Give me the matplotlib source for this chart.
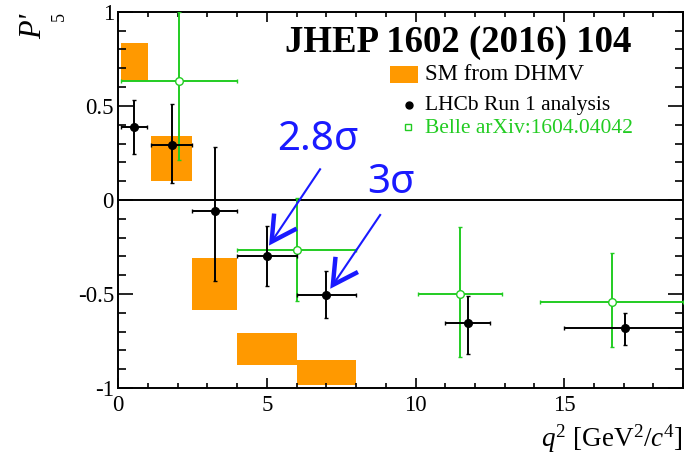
import numpy as np
import matplotlib
matplotlib.use('Agg')
import matplotlib.pyplot as plt

plt.rcParams['font.family'] = ['Liberation Serif', 'DejaVu Serif']
plt.rcParams['mathtext.fontset'] = 'custom'
plt.rcParams['mathtext.rm'] = 'Liberation Serif'
plt.rcParams['mathtext.it'] = 'Liberation Serif:italic'
plt.rcParams['axes.unicode_minus'] = False

# LHCb Run 1 points: q2 centre, bin edges, P5' value and error band ends
lhcb_q2 = [0.54, 1.80, 3.26, 5.02, 7.00, 11.76, 17.04]
lhcb_lo = [0.1, 1.1, 2.5, 4.0, 6.0, 11.0, 15.0]
lhcb_hi = [0.98, 2.5, 4.0, 6.0, 8.0, 12.5, 19.0]
lhcb_p5 = [0.39, 0.29, -0.06, -0.30, -0.505, -0.655, -0.68]
lhcb_up = [0.53, 0.51, 0.28, -0.14, -0.38, -0.51, -0.60]
lhcb_dn = [0.245, 0.09, -0.43, -0.46, -0.63, -0.82, -0.77]

# Belle arXiv:1604.04042
belle_q2 = [2.05, 6.02, 11.5, 16.61]
belle_lo = [0.1, 4.0, 10.09, 14.2]
belle_hi = [4.0, 8.0, 12.9, 19.0]
belle_p5 = [0.63, -0.265, -0.50, -0.545]
belle_up = [1.0, 0.01, -0.145, -0.28]
belle_dn = [0.21, -0.535, -0.835, -0.78]

# SM prediction (DHMV) boxes
sm_lo = [0.1, 1.1, 2.5, 4.0, 6.0]
sm_hi = [1.0, 2.5, 4.0, 6.0, 8.0]
sm_top = [0.835, 0.34, -0.31, -0.705, -0.85]
sm_bot = [0.635, 0.10, -0.585, -0.88, -0.985]

# significance annotations: label, text pos, arrow start, arrow tip
notes = [
    ('2.8σ', (5.33, 0.266), (6.79, 0.163), (5.16, -0.222)),
    ('3σ', (8.37, 0.037), (8.81, -0.080), (7.22, -0.452)),
]

ORANGE = '#ff9900'
GREEN = '#22cc22'
BLUE = '#1a1aff'

fig = plt.figure(figsize=(6.95, 4.57), dpi=100)
ax = fig.add_axes([0.170, 0.151, 0.813, 0.823])

for lo, hi, b, t in zip(sm_lo, sm_hi, sm_bot, sm_top):
    ax.bar(lo, t - b, width=hi - lo, bottom=b, align='edge', color=ORANGE, lw=0, zorder=1)

ax.axhline(0, color='black', lw=1.4, zorder=2)

def draw_points(q2, lo, hi, val, up, dn, color, face, z):
    q2 = np.array(q2); val = np.array(val)
    xerr = [q2 - np.array(lo), np.array(hi) - q2]
    yerr = [val - np.array(dn), np.array(up) - val]
    ax.errorbar(q2, val, xerr=xerr, yerr=yerr, fmt='o', color=color, mfc=face, mec=color,
                ms=5.5, mew=1.0, elinewidth=1.4, capsize=1.6, capthick=1.4, zorder=z)

draw_points(belle_q2, belle_lo, belle_hi, belle_p5, belle_up, belle_dn, GREEN, 'white', 3)
draw_points(lhcb_q2, lhcb_lo, lhcb_hi, lhcb_p5, lhcb_up, lhcb_dn, 'black', 'black', 4)

ax.set_xlim(0, 19)
ax.set_ylim(-1, 1)
ax.set_xticks([0, 5, 10, 15])
ax.set_xticks(np.arange(0, 20, 1), minor=True)
ax.set_yticks([-1, -0.5, 0, 0.5, 1])
ax.set_yticklabels(['-1', '-0.5', '0', '0.5', '1'])
ax.set_yticks(np.arange(-1, 1.01, 0.1), minor=True)
ax.tick_params(which='both', direction='in', top=True, right=True, width=1.2, labelsize=16.5)
ax.tick_params(axis='x', which='major', length=7.2, pad=5)
ax.tick_params(axis='x', which='minor', length=3.6)
ax.tick_params(axis='y', which='major', length=10.8, pad=3)
ax.tick_params(axis='y', which='minor', length=5.8)
for s in ax.spines.values():
    s.set_linewidth(1.4)

fig.text(0.983, 0.022, r'$q^2$ [GeV$^2$/$c^4$]', ha='right', va='baseline', fontsize=19.5)
# ROOT-style axis title: P' with the subscript 5 set well apart
fig.text(0.049, 0.943, "P'", rotation=90, ha='center', va='center', fontsize=22, style='italic')
fig.text(0.085, 0.964, '5', rotation=90, ha='center', va='center', fontsize=13)

ax.text(0.295, 0.894, 'JHEP 1602 (2016) 104', transform=ax.transAxes, fontsize=26.5,
        fontweight='bold', va='baseline', ha='left')

# legend, drawn by hand in axes fraction
ax.bar(0.482, 0.044, width=0.048, bottom=0.812, align='edge', color=ORANGE, lw=0,
       transform=ax.transAxes)
ax.text(0.543, 0.834, 'SM from DHMV', transform=ax.transAxes, fontsize=16.5, va='center')
ax.plot([0.515], [0.753], 'o', color='black', ms=5, transform=ax.transAxes)
ax.text(0.543, 0.750, 'LHCb Run 1 analysis', transform=ax.transAxes, fontsize=15.5, va='center')
ax.plot([0.513], [0.693], 's', mfc='white', mec=GREEN, ms=5, mew=1.0, transform=ax.transAxes)
ax.text(0.543, 0.690, 'Belle arXiv:1604.04042', transform=ax.transAxes, fontsize=15.5,
        va='center', color=GREEN)

fig.canvas.draw()
for label, tpos, a0, a1 in notes:
    ax.text(tpos[0], tpos[1], label, color=BLUE, fontsize=29, family=['Noto Sans', 'DejaVu Sans'],
            va='baseline', ha='left')
    ax.plot([a0[0], a1[0]], [a0[1], a1[1]], color=BLUE, lw=1.5, zorder=5)
    p0 = ax.transData.transform(a0)
    p1 = ax.transData.transform(a1)
    d = (p0 - p1) / np.hypot(*(p0 - p1))
    heads = []
    for ang in (0.5, -0.5):
        c, s = np.cos(ang), np.sin(ang)
        r = np.array([c * d[0] - s * d[1], s * d[0] + c * d[1]])
        heads.append(p1 + 26 * r)
    pts = ax.transData.inverted().transform(np.array([heads[0], p1, heads[1]]))
    ax.plot(pts[:, 0], pts[:, 1], color=BLUE, lw=3.2, solid_joinstyle='miter', zorder=5)

fig.savefig('out.png', dpi=100)
